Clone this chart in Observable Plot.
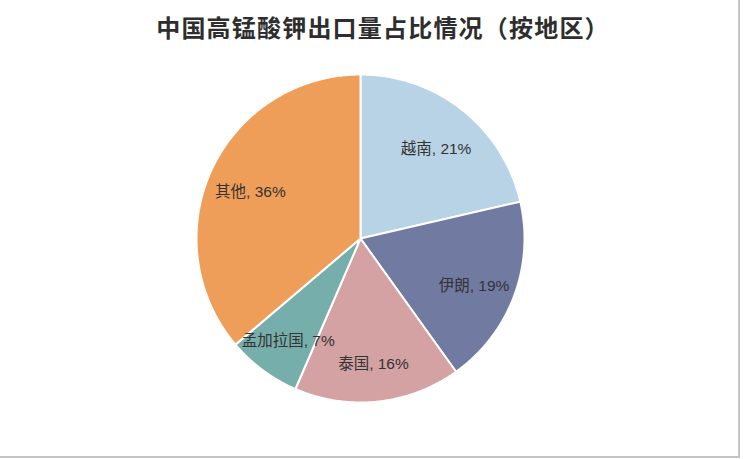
<!DOCTYPE html>
<html>
<head>
<meta charset="utf-8">
<script src="https://cdn.jsdelivr.net/npm/d3@7"></script>
<script src="https://cdn.jsdelivr.net/npm/@observablehq/plot@0.6"></script>
<style>
  html, body { margin: 0; padding: 0; background: #fff; }
  #wrap { position: relative; width: 738px; height: 456px; border-right: 2px solid #c4c4c4; border-bottom: 2px solid #c4c4c4; overflow: hidden; }
  #title { height: 50px; line-height: 54px; text-align: center; padding-left: 28px; font-family: "Noto Sans CJK SC", sans-serif; font-weight: bold; font-size: 24px; letter-spacing: 1.2px; color: #2e2e2e; }
</style>
</head>
<body>
<div id="wrap">
  <div id="title">中国高锰酸钾出口量占比情况（按地区）</div>
  <div id="chart"></div>
</div>
<script>
const regions = ["越南", "伊朗", "泰国", "孟加拉国", "其他"];
const shares = [21.4, 18.7, 16.4, 7.3, 36.2];
const colors = ["#b8d3e5", "#717aa1", "#d4a2a3", "#76aeab", "#ef9e59"];

const data = regions.map((name, i) => ({name, value: shares[i]}));
const arcs = d3.pie().sort(null).value(d => d.value)(data);

// polygon points for each slice (angles clockwise from 12 o'clock)
const pts = [];
for (const a of arcs) {
  const n = Math.max(2, Math.ceil((a.endAngle - a.startAngle) / 0.01));
  pts.push({name: a.data.name, x: 0, y: 0});
  for (let k = 0; k <= n; k++) {
    const t = a.startAngle + (a.endAngle - a.startAngle) * k / n;
    pts.push({name: a.data.name, x: Math.sin(t), y: Math.cos(t)});
  }
  pts.push({name: a.data.name, x: 0, y: 0});
}
const labels = arcs.map(a => {
  const m = (a.startAngle + a.endAngle) / 2;
  const r = 0.74;
  return {name: a.data.name, x: r * Math.sin(m), y: r * Math.cos(m), text: `${a.data.name}, ${Math.round(a.data.value)}%`};
});

const cx = 360, cy = 188, R = 164;
const chart = Plot.plot({
  width: 738,
  height: 406,
  margin: 0,
  x: {domain: [-1, 1], range: [cx - R, cx + R], axis: null},
  y: {domain: [-1, 1], range: [cy + R, cy - R], axis: null},
  color: {domain: regions, range: colors},
  style: {fontFamily: "'Liberation Sans', 'Noto Sans CJK SC', sans-serif", background: "transparent"},
  marks: [
    Plot.line(pts, {x: "x", y: "y", z: "name", fill: "name", stroke: "white", strokeWidth: 2, strokeLinejoin: "round", curve: "linear"}),
    Plot.text(labels, {x: "x", y: "y", dy: 5, text: "text", fontSize: 15.5, fill: "#333"})
  ]
});
document.getElementById("chart").appendChild(chart);
</script>
</body>
</html>
